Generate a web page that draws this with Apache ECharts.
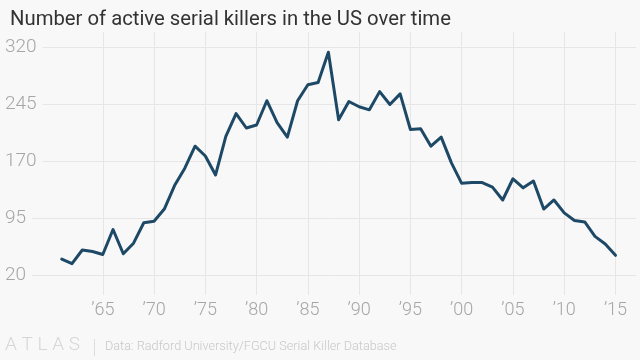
<!DOCTYPE html>
<html>
<head>
<meta charset="utf-8">
<style>
html,body{margin:0;padding:0;background:#f8f8f8;}
#chart{width:640px;height:360px;}
</style>
<script src="https://cdn.jsdelivr.net/npm/echarts@6/dist/echarts.min.js"></script>
</head>
<body>
<div id="chart"></div>
<script>
const years = [1961,1962,1963,1964,1965,1966,1967,1968,1969,1970,1971,1972,1973,1974,1975,1976,1977,1978,1979,1980,1981,1982,1983,1984,1985,1986,1987,1988,1989,1990,1991,1992,1993,1994,1995,1996,1997,1998,1999,2000,2001,2002,2003,2004,2005,2006,2007,2008,2009,2010,2011,2012,2013,2014,2015];
const activeKillers = [41,35,53,51,47,80,48,62,89,91,107,138,161,190,177,152,203,233,214,218,250,221,202,250,271,274,314,225,249,242,238,262,245,259,212,213,190,202,168,141,142,142,136,119,147,135,144,107,119,102,92,90,71,61,46];
const yTicks = [20,95,170,245,320];
const xTicks = [1965,1970,1975,1980,1985,1990,1995,2000,2005,2010,2015];

const chart = echarts.init(document.getElementById('chart'));
const bg = '#f8f8f8';
chart.setOption({
  backgroundColor: bg,
  animation: false,
  title: {
    text: 'Number of active serial killers in the US over time',
    left: 5, top: 5,
    textStyle: {fontFamily: 'Roboto', fontWeight: 400, fontSize: 20.3, color: '#333333'}
  },
  grid: {left: 31, right: 4, top: 32, bottom: 65},
  xAxis: {
    type: 'value', min: 1958, max: 2017,
    axisLine: {show: false}, axisTick: {show: false, customValues: xTicks},
    axisLabel: {customValues: xTicks, margin: 6, fontFamily: 'Roboto', fontWeight: 300, fontSize: 18, color: '#a6a6a6',
      formatter: v => '\u2019' + String(v).slice(2)},
    splitLine: {show: true, lineStyle: {color: '#e6e6e6', width: 1}}
  },
  yAxis: {
    type: 'value', min: -6.4, max: 340.7,
    axisLine: {show: false}, axisTick: {show: false, customValues: yTicks},
    axisLabel: {customValues: yTicks, align: 'left', margin: 26, fontFamily: 'Roboto', fontWeight: 300, fontSize: 19, color: '#a6a6a6',
      backgroundColor: bg, padding: [0, 6, 0, 0]},
    splitLine: {show: true, lineStyle: {color: '#e6e6e6', width: 1}}
  },
  series: [{
    type: 'line',
    data: years.map((y, i) => [y, activeKillers[i]]),
    showSymbol: false,
    lineStyle: {color: '#1d4966', width: 3, join: 'round', cap: 'round'},
    itemStyle: {color: '#1d4966'}
  }],
  graphic: [
    {type: 'text', left: 5, top: 336, style: {text: 'A T L A S', fontFamily: 'Roboto', fontWeight: 300, fontSize: 19, fill: '#d6d6d6'}},
    {type: 'rect', left: 94, top: 339, shape: {width: 1, height: 17}, style: {fill: '#dddddd'}},
    {type: 'text', left: 105, top: 340, style: {text: 'Data: Radford University/FGCU Serial Killer Database', fontFamily: 'Roboto', fontWeight: 300, fontSize: 12.7, fill: '#c8c8c8'}}
  ]
});
</script>
</body>
</html>
